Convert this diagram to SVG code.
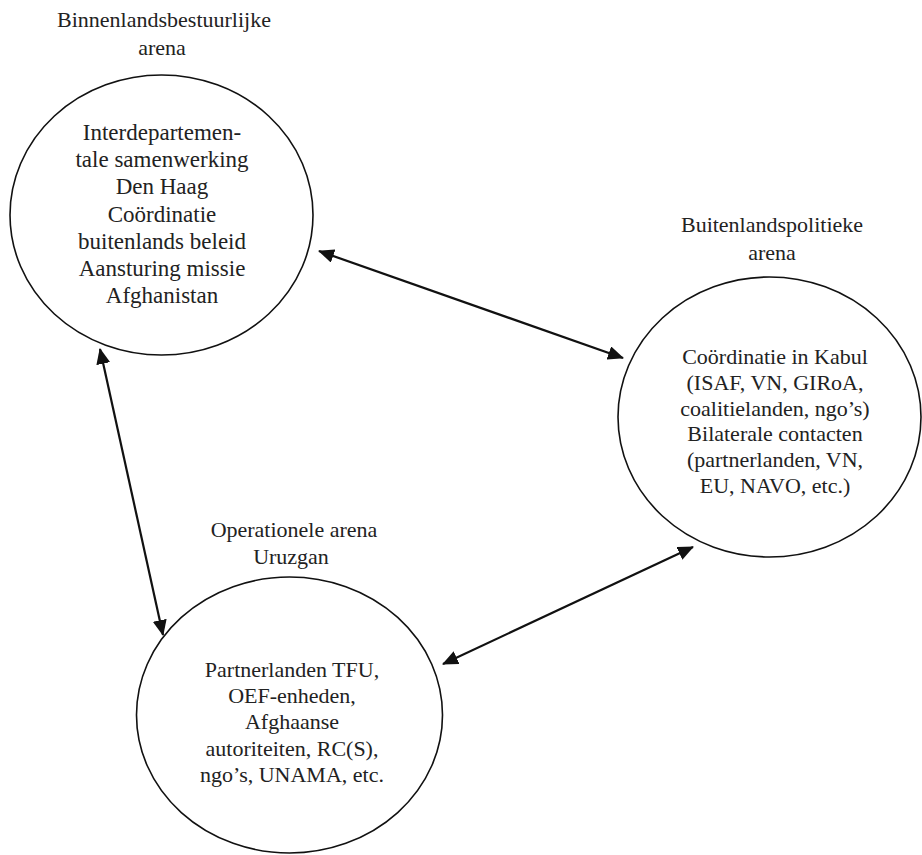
<svg xmlns="http://www.w3.org/2000/svg" width="922" height="855" viewBox="0 0 922 855">
<style>
text{font-family:"Liberation Serif","Times New Roman",serif;font-size:22px;fill:#222;text-anchor:middle}
.c{fill:#fff;stroke:#111;stroke-width:1.6}
.a{stroke:#111;stroke-width:2.2;fill:none;marker-start:url(#ah);marker-end:url(#ah)}
</style>
<defs>
<marker id="ah" viewBox="0 0 16 14" markerWidth="16" markerHeight="14" refX="15" refY="7" orient="auto-start-reverse" markerUnits="userSpaceOnUse">
<path d="M0,0 L16,7 L0,14 Z" fill="#111"/>
</marker>
</defs>
<rect width="922" height="855" fill="#fff"/>
<g id="binnenlands">
<text x="164" y="27">Binnenlandsbestuurlijke</text>
<text x="162" y="55">arena</text>
<ellipse class="c" cx="161.5" cy="215" rx="151.5" ry="140"/>
<text x="162" y="140" style="font-size:23px">Interdepartemen-</text>
<text x="162" y="167" style="font-size:23px">tale samenwerking</text>
<text x="162" y="194" style="font-size:23px">Den Haag</text>
<text x="162" y="222" style="font-size:23px">Coördinatie</text>
<text x="162" y="249" style="font-size:23px">buitenlands beleid</text>
<text x="162" y="276" style="font-size:23px">Aansturing missie</text>
<text x="162" y="303" style="font-size:23px">Afghanistan</text>
</g>
<g id="buitenlands">
<text x="772" y="232">Buitenlandspolitieke</text>
<text x="772" y="260">arena</text>
<ellipse class="c" cx="769.5" cy="417" rx="151.5" ry="140"/>
<text x="775" y="364">Coördinatie in Kabul</text>
<text x="775" y="390">(ISAF, VN, GIRoA,</text>
<text x="775" y="416">coalitielanden, ngo’s)</text>
<text x="775" y="441">Bilaterale contacten</text>
<text x="775" y="467">(partnerlanden, VN,</text>
<text x="775" y="493">EU, NAVO, etc.)</text>
</g>
<g id="operationeel">
<text x="294" y="537">Operationele arena</text>
<text x="291" y="564">Uruzgan</text>
<ellipse class="c" cx="289.5" cy="715" rx="153" ry="138"/>
<text x="292" y="677">Partnerlanden TFU,</text>
<text x="292" y="703">OEF-enheden,</text>
<text x="292" y="729">Afghaanse</text>
<text x="292" y="756">autoriteiten, RC(S),</text>
<text x="292" y="782">ngo’s, UNAMA, etc.</text>
</g>
<g id="connectors">
<line class="a" x1="319" y1="251" x2="623" y2="358"/>
<line class="a" x1="100" y1="349" x2="163" y2="635"/>
<line class="a" x1="443" y1="664" x2="693" y2="547"/>
</g>
</svg>
